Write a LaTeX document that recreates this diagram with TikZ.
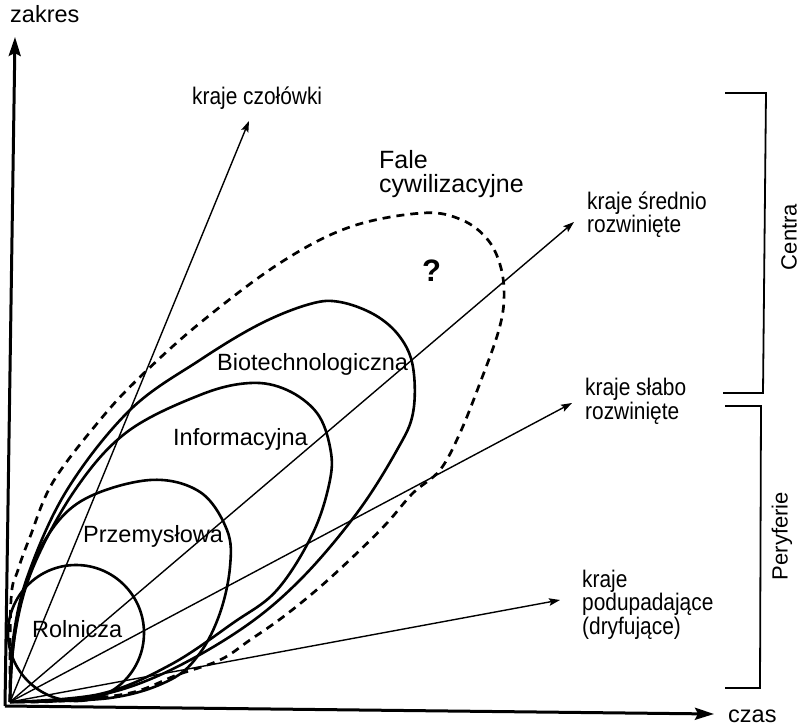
\documentclass[tikz,border=0pt]{standalone}
\usepackage{fontspec}
\setmainfont{Liberation Sans}
\newfontfamily\tallsans[FakeStretch=0.87]{Liberation Sans}
\usetikzlibrary{arrows.meta}

\begin{document}
\begin{tikzpicture}[x=1pt,y=-1pt,
  axis/.style={line width=3pt,-{Stealth[length=19pt,width=12pt,inset=3pt]}},
  ray/.style={line width=1.4pt,-{Stealth[length=11pt,width=7.5pt,inset=2pt]}},
  wave/.style={line width=2.6pt,line join=round},
  future/.style={line width=2.7pt,dash pattern=on 8pt off 6pt},
  bracket/.style={line width=1.8pt},
  bigtxt/.style={font=\fontsize{23.5}{28}\selectfont,inner sep=0pt,anchor=base west},
  smalltxt/.style={font=\tallsans\fontsize{24}{21}\selectfont,inner sep=0pt,anchor=base west,align=left},
  sidetxt/.style={font=\fontsize{22}{22}\selectfont,inner sep=0pt,rotate=90}
]
\useasboundingbox (0,0) rectangle (801,727);
\fill[white] (0,0) rectangle (801,727);

% axes
\coordinate (O) at (5,706);
\coordinate (ytip) at (15,37);
\coordinate (xtip) at (714,714);
\draw[axis] (O) -- (ytip);
\draw[axis] (O) -- (xtip);
\node[bigtxt] (zakres) at (10,23) {zakres};
\node[bigtxt] (czas) at (728,722) {czas};

% common starting point of the development paths
\coordinate (R) at (10,702);

% civilisation waves
\draw[wave] (76,633) circle (68);
\draw[wave] plot[smooth,tension=0.6] coordinates {(10,702) (13,650) (22,598) (45,540) (83,500) (150,480) (200,492) (227,530) (230,567) (220,613) (200,653) (170,680) (110,698) (10,702)};
\draw[wave] plot[smooth,tension=0.6] coordinates {(10,702) (14,640) (32,570) (75,490) (127,432) (200,395) (250,383) (287,390) (317,413) (330,447) (330,480) (313,533) (277,590) (233,623) (170,665) (100,694) (10,702)};
\draw[wave] plot[smooth,tension=0.6] coordinates {(10,702) (13,640) (28,575) (67,490) (130,410) (200,360) (260,324) (310,304) (340,302) (375,315) (400,337) (413,367) (413,413) (397,450) (357,513) (300,580) (240,630) (160,675) (90,697) (10,702)};
\draw[future] plot[smooth,tension=0.6] coordinates {(10,702) (11,600) (18,570) (30,537) (53,482) (100,420) (140,377) (200,323) (280,263) (350,227) (423,213) (462,220) (488,240) (501,268) (504,300) (498,333) (480,383) (460,433) (440,470) (413,493) (387,523) (357,553) (320,587) (283,617) (250,640) (220,660) (177,675) (130,693) (60,701) (10,702)};

\node[bigtxt] (rol) at (32,637) {Rolnicza};
\node[bigtxt] (prz) at (83,542) {Przemysłowa};
\node[bigtxt] (inf) at (173,446) {Informacyjna};
\node[bigtxt] (bio) at (217,371) {Biotechnologiczna};
\node[font=\fontsize{25}{24}\selectfont,inner sep=0pt,anchor=base west,align=left] (fale) at (379,193) {Fale\\cywilizacyjne};
\node[font=\fontsize{31}{31}\selectfont\bfseries,inner sep=0pt,anchor=base west] (pyt) at (422,282) {?};

% development paths of country groups
\coordinate (t1) at (249,121);
\coordinate (t2) at (574,222);
\coordinate (t3) at (572,403);
\coordinate (t4) at (560,600);
\draw[ray] (R) -- (t1);
\draw[ray] (R) -- (t2);
\draw[ray] (R) -- (t3);
\draw[ray] (R) -- (t4);
\node[smalltxt] (k1) at (192,105) {kraje czołówki};
\node[smalltxt] (k2) at (587,233) {kraje średnio\\rozwinięte};
\node[smalltxt] (k3) at (585,419) {kraje słabo\\rozwinięte};
\node[smalltxt] (k4) at (582,634) {kraje\\podupadające\\(dryfujące)};

% groups
\draw[bracket] (725,93) -- (766,93) -- (763,393) -- (723,393);
\draw[bracket] (725,406) -- (761,406) -- (760,688) -- (725,688);
\node[sidetxt] (centra) at (789,237) {Centra};
\node[sidetxt] (peryf) at (782,536) {Peryferie};
\end{tikzpicture}
\end{document}
